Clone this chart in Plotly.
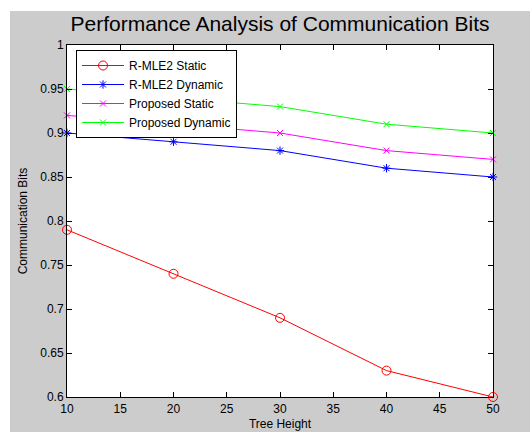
import plotly.graph_objects as go

tree_height = [10, 20, 30, 40, 50]
rmle2_static = [0.79, 0.74, 0.69, 0.63, 0.60]
rmle2_dynamic = [0.90, 0.89, 0.88, 0.86, 0.85]
proposed_static = [0.92, 0.91, 0.90, 0.88, 0.87]
proposed_dynamic = [0.95, 0.94, 0.93, 0.91, 0.90]

x_ticks = [10, 15, 20, 25, 30, 35, 40, 45, 50]
y_ticks = [0.6, 0.65, 0.7, 0.75, 0.8, 0.85, 0.9, 0.95, 1]
y_tick_text = ["0.6", "0.65", "0.7", "0.75", "0.8", "0.85", "0.9", "0.95", "1"]

W, H = 530, 432
L, R, T, B = 67, 37, 45, 35

series = [
    ("R-MLE2 Static", rmle2_static, "#ff0000", "circle-open", 9),
    ("R-MLE2 Dynamic", rmle2_dynamic, "#0000ff", "asterisk-open", 7),
    ("Proposed Static", proposed_static, "#ff00ff", "x-thin-open", 6),
    ("Proposed Dynamic", proposed_dynamic, "#00ff00", "x-thin-open", 6),
]

fig = go.Figure()
for name, vals, color, sym, size in series:
    fig.add_trace(go.Scatter(
        x=tree_height, y=vals, name=name, mode="lines+markers",
        line=dict(color=color, width=1),
        marker=dict(symbol=sym, size=size, color=color,
                    line=dict(color=color, width=1)),
        cliponaxis=False,
    ))

pw = W - L - R
ph = H - T - B


def px_x(p):
    return (p - L) / pw


def px_y(p):
    return (H - B - p) / ph


axis_common = dict(
    showline=True, mirror="ticks", linecolor="black", linewidth=1,
    ticks="inside", ticklen=5, tickcolor="black", showgrid=False,
    zeroline=False, automargin=False,
    tickfont=dict(family="Arial", size=12, color="black"),
)

fig.update_layout(
    width=W, height=H,
    margin=dict(l=L, r=R, t=T, b=B),
    paper_bgcolor="white",
    plot_bgcolor="white",
    font=dict(family="Arial", size=12, color="black"),
    title=dict(text="Performance Analysis of Communication Bits",
               font=dict(family="Arial", size=21, color="black"),
               x=px_x(280), xref="paper", xanchor="center",
               y=1 - 24 / H, yanchor="middle"),
    xaxis=dict(range=[10, 50], tickvals=x_ticks, ticklabelstandoff=1,
               title=dict(text="Tree Height", standoff=4,
                          font=dict(family="Arial", size=12)),
               **axis_common),
    yaxis=dict(range=[0.6, 1], tickvals=y_ticks, ticktext=y_tick_text,
               title=dict(text="Communication Bits", standoff=10,
                          font=dict(family="Arial", size=12)),
               **axis_common),
    legend=dict(x=px_x(76), y=px_y(50), xanchor="left", yanchor="top",
                bgcolor="white", bordercolor="black", borderwidth=1,
                font=dict(family="Arial", size=12, color="black"),
                itemwidth=42, tracegroupgap=0),
    shapes=[
        dict(type="rect", xref="paper", yref="paper", layer="below",
             x0=px_x(10), x1=px_x(W), y0=px_y(H), y1=px_y(11),
             fillcolor="#cccccc", line=dict(width=0)),
        dict(type="rect", xref="paper", yref="paper", layer="below",
             x0=0, x1=1, y0=0, y1=1,
             fillcolor="white", line=dict(width=0)),
    ],
)

fig.write_html("out.html")
